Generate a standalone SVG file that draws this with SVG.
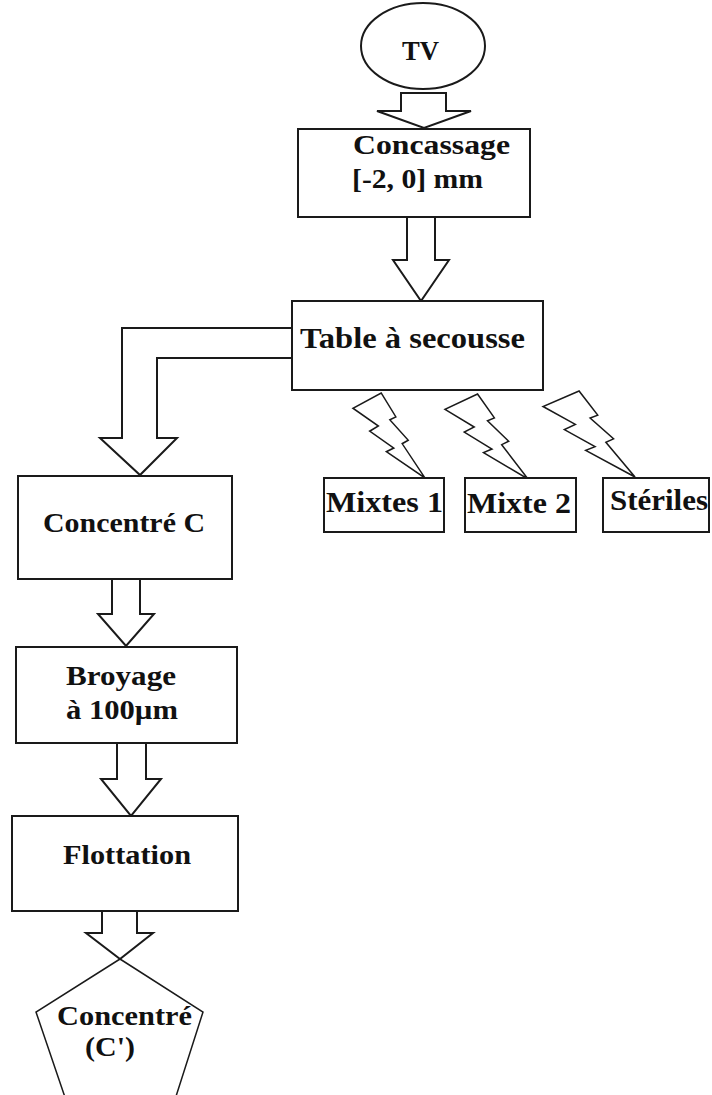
<svg xmlns="http://www.w3.org/2000/svg" width="712" height="1095" viewBox="0 0 712 1095">
  <style>
    .box { fill: #ffffff; stroke: #1a1a1a; stroke-width: 2; }
    .arrow { fill: #ffffff; stroke: #1a1a1a; stroke-width: 2; stroke-linejoin: miter; }
    .bolt { fill: #ffffff; stroke: #1a1a1a; stroke-width: 1.5; stroke-linejoin: miter; }
    .label { font-family: "Liberation Serif", "Times New Roman", serif; font-weight: bold; fill: #111111; }
  </style>
  <defs>
    <!-- lightning bolt in a unit box: top point, tip at bottom-right -->
    <path id="bolt-shape" d="M0.392,0 L0.595,0.281 L0.512,0.315 L0.767,0.556 L0.683,0.596 L1,1 L0.464,0.690 L0.566,0.648 L0.232,0.449 L0.352,0.388 L0,0.180 Z"/>
  </defs>
  <rect width="712" height="1095" fill="#ffffff"/>

  <!-- connectors -->
  <g id="connectors">
    <polygon class="arrow" points="401,93 446,93 446,111 471,111 424,128 377,111 401,111"/>
    <polygon class="arrow" points="407,217 435,217 435,260 449,260 421,301 393,260 407,260"/>
    <polygon class="arrow" points="292,328 122,328 122,438 100,438 140,475 177,438 157,438 157,358 292,358"/>
    <polygon class="arrow" points="112,579 140,579 140,614 154,614 126,646 98,614 112,614"/>
    <polygon class="arrow" points="117,743 146,743 146,779 161,779 131,816 101,779 117,779"/>
    <polygon class="arrow" points="102,911 137,911 137,933 153,933 120,959 86,933 102,933"/>
    <!-- bolts from the shaking table to its three outputs -->
    <g class="bolt">
      <use href="#bolt-shape" transform="translate(353,393) scale(72,85)" style="stroke-width:0.019"/>
      <use href="#bolt-shape" transform="translate(445,394) scale(83,85)" style="stroke-width:0.018"/>
      <use href="#bolt-shape" transform="translate(543,391) scale(92,86)" style="stroke-width:0.017"/>
    </g>
  </g>

  <g id="node-tv">
    <ellipse class="box" cx="423" cy="46" rx="62" ry="43"/>
    <text class="label" x="402" y="60" font-size="27" textLength="37" lengthAdjust="spacingAndGlyphs">TV</text>
  </g>

  <g id="node-concassage">
    <rect class="box" x="298" y="129" width="232" height="88"/>
    <text class="label" x="353" y="154" font-size="28" textLength="157" lengthAdjust="spacingAndGlyphs">Concassage</text>
    <text class="label" x="352" y="188" font-size="28" textLength="131" lengthAdjust="spacingAndGlyphs">[-2, 0] mm</text>
  </g>

  <g id="node-table">
    <rect class="box" x="292" y="301" width="251" height="89"/>
    <text class="label" x="300" y="348" font-size="30" textLength="225" lengthAdjust="spacingAndGlyphs">Table à secousse</text>
  </g>

  <g id="node-mixtes1">
    <rect class="box" x="324" y="478" width="120" height="54"/>
    <text class="label" x="326" y="512" font-size="29" textLength="117" lengthAdjust="spacingAndGlyphs">Mixtes 1</text>
  </g>

  <g id="node-mixte2">
    <rect class="box" x="465" y="478" width="111" height="54"/>
    <text class="label" x="467" y="513" font-size="29" textLength="104" lengthAdjust="spacingAndGlyphs">Mixte 2</text>
  </g>

  <g id="node-steriles">
    <rect class="box" x="603" y="478" width="106" height="54"/>
    <text class="label" x="610" y="510" font-size="29" textLength="98" lengthAdjust="spacingAndGlyphs">Stériles</text>
  </g>

  <g id="node-concentre-c">
    <rect class="box" x="18" y="476" width="214" height="103"/>
    <text class="label" x="43" y="532" font-size="28" textLength="162" lengthAdjust="spacingAndGlyphs">Concentré C</text>
  </g>

  <g id="node-broyage">
    <rect class="box" x="16" y="647" width="221" height="96"/>
    <text class="label" x="66" y="685" font-size="28" textLength="110" lengthAdjust="spacingAndGlyphs">Broyage</text>
    <text class="label" x="66" y="719" font-size="28" textLength="112" lengthAdjust="spacingAndGlyphs">à 100µm</text>
  </g>

  <g id="node-flottation">
    <rect class="box" x="12" y="816" width="226" height="95"/>
    <text class="label" x="63" y="864" font-size="28" textLength="128" lengthAdjust="spacingAndGlyphs">Flottation</text>
  </g>

  <g id="node-concentre-final">
    <polygon class="bolt" points="120,959 203,1012 171,1112 70,1112 36,1012"/>
    <text class="label" x="57" y="1025" font-size="28" textLength="135" lengthAdjust="spacingAndGlyphs">Concentré</text>
    <text class="label" x="85" y="1056" font-size="28" textLength="50" lengthAdjust="spacingAndGlyphs">(C')</text>
  </g>
</svg>
